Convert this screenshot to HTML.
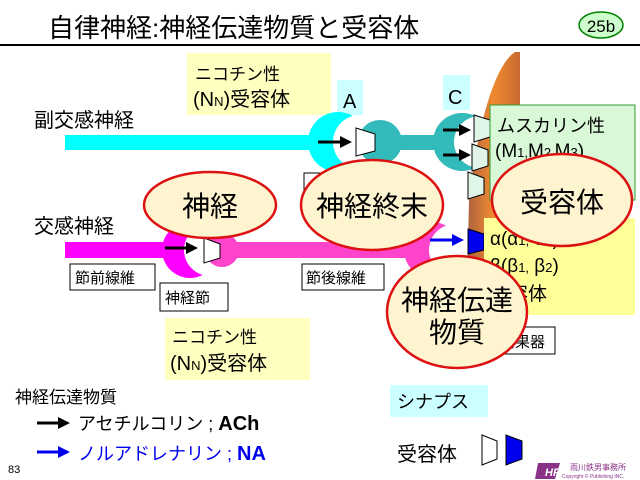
<!DOCTYPE html>
<html><head><meta charset="utf-8"><style>
body{margin:0;background:#fff}
svg{display:block}
text{font-family:"Liberation Sans","Noto Sans CJK JP",sans-serif}
</style></head><body>
<svg width="640" height="480" viewBox="0 0 640 480" xmlns="http://www.w3.org/2000/svg">
<defs>
<linearGradient id="eff" x1="0" x2="1" y1="0" y2="0"><stop offset="0" stop-color="#a86040"/><stop offset="0.5" stop-color="#f08a30"/><stop offset="1" stop-color="#c86a30"/></linearGradient>
<marker id="ab" markerWidth="4" markerHeight="4" refX="2" refY="2" orient="auto"><path d="M0,0L4,2L0,4z" fill="#000"/></marker>
<marker id="abl" markerWidth="4" markerHeight="4" refX="2" refY="2" orient="auto"><path d="M0,0L4,2L0,4z" fill="#0000ee"/></marker>
</defs>
<text x="48" y="37" font-size="26">自律神経:神経伝達物質と受容体</text>
<line x1="0" y1="45" x2="640" y2="45" stroke="#000" stroke-width="2"/>
<ellipse cx="601" cy="25" rx="22" ry="13" fill="#ccffcc" stroke="#008000" stroke-width="1.5"/>
<text x="601" y="32" font-size="17" text-anchor="middle">25b</text>

<rect x="187" y="53" width="144" height="62" fill="#ffffc0"/>
<text x="195" y="80" font-size="17">ニコチン性</text>
<text x="193" y="106" font-size="20">(N<tspan font-size="13">N</tspan>)受容体</text>
<rect x="337" y="80" width="26" height="35" fill="#ccffff"/>
<text x="343" y="108" font-size="20">A</text>
<rect x="443" y="75" width="27" height="35" fill="#ccffff"/>
<text x="448" y="104" font-size="20">C</text>

<text x="34" y="127" font-size="20">副交感神経</text>
<rect x="65" y="135" width="270" height="15" fill="#00ffff"/>
<circle cx="338" cy="142" r="30" fill="#00ffff"/>
<circle cx="360" cy="142" r="27" fill="#fff"/>
<rect x="375" y="135" width="70" height="15" fill="#33bbbb"/>
<circle cx="380" cy="142" r="22" fill="#33bbbb"/>
<circle cx="462" cy="142" r="29" fill="#33bbbb"/>
<circle cx="480" cy="142" r="26" fill="#fff"/>

<text x="34" y="233" font-size="20">交感神経</text>
<rect x="65" y="242" width="110" height="16" fill="#ff00ff"/>
<circle cx="190" cy="250" r="28" fill="#ff00ff"/>
<circle cx="210" cy="250" r="26" fill="#fff"/>
<rect x="215" y="242" width="225" height="16" fill="#ff44cc"/>
<circle cx="222" cy="250" r="17" fill="#ff44cc"/>
<circle cx="432" cy="250" r="28" fill="#ff44cc"/>
<circle cx="455" cy="250" r="26" fill="#fff"/>

<path d="M515,52 C496,64 478,120 469,200 L466,335 L520,335 L520,52 Z" fill="url(#eff)"/>

<path d="M356,128 L375,134 L375,151 L356,156 Z" fill="#fff" stroke="#000"/>
<line x1="318" y1="142" x2="346" y2="142" stroke="#000" stroke-width="3" marker-end="url(#ab)"/>
<line x1="443" y1="130" x2="465" y2="130" stroke="#000" stroke-width="3" marker-end="url(#ab)"/>
<line x1="443" y1="155" x2="465" y2="155" stroke="#000" stroke-width="3" marker-end="url(#ab)"/>
<path d="M474,115 L490,120 L490,137 L474,142 Z" fill="#dff5e8" stroke="#000"/>
<path d="M472,144 L488,150 L488,166 L472,171 Z" fill="#dff5e8" stroke="#000"/>
<path d="M468,172 L484,178 L484,194 L468,199 Z" fill="#dff5e8" stroke="#000"/>

<rect x="490" y="105" width="145" height="95" fill="#d8f8d8" stroke="#339933"/>
<text x="497" y="132" font-size="18">ムスカリン性</text>
<text x="495" y="157" font-size="19">(M<tspan font-size="13">1,</tspan>M<tspan font-size="13">2,</tspan>M<tspan font-size="13">3</tspan>)</text>

<path d="M204,238 L220,244 L220,258 L204,263 Z" fill="#fff" stroke="#000"/>
<line x1="165" y1="248" x2="192" y2="248" stroke="#000" stroke-width="3" marker-end="url(#ab)"/>
<line x1="430" y1="240" x2="458" y2="240" stroke="#0000ee" stroke-width="3" marker-end="url(#abl)"/>
<path d="M468,229 L484,234 L484,250 L468,254 Z" fill="#0000ee" stroke="#000"/>

<rect x="484" y="218" width="151" height="97" fill="#ffff99"/>
<text x="490" y="245" font-size="19">α(α<tspan font-size="13">1,</tspan> α<tspan font-size="13">2</tspan>)</text>
<text x="490" y="272" font-size="19">β(β<tspan font-size="13">1,</tspan> β<tspan font-size="13">2</tspan>)</text>
<text x="490" y="300" font-size="19">受容体</text>

<rect x="70" y="264" width="85" height="26" fill="#fff" stroke="#000"/>
<text x="75" y="283" font-size="15">節前線維</text>
<rect x="160" y="283" width="68" height="28" fill="#fff" stroke="#000"/>
<text x="165" y="303" font-size="15">神経節</text>
<rect x="302" y="264" width="82" height="26" fill="#fff" stroke="#000"/>
<text x="306" y="283" font-size="15">節後線維</text>
<rect x="497" y="327" width="58" height="27" fill="#fff" stroke="#000"/>
<text x="500" y="347" font-size="15">効果器</text>
<rect x="304" y="173" width="20" height="22" fill="#fff" stroke="#000"/>

<rect x="165" y="318" width="145" height="62" fill="#ffffc0"/>
<text x="172" y="343" font-size="17">ニコチン性</text>
<text x="170" y="370" font-size="20">(N<tspan font-size="13">N</tspan>)受容体</text>

<g fill="#fff4d0" stroke="#dd1111" stroke-width="2.5">
<ellipse cx="210" cy="205" rx="66" ry="33"/>
<ellipse cx="372" cy="205" rx="71" ry="45"/>
<ellipse cx="562" cy="200" rx="70" ry="46"/>
<ellipse cx="457" cy="312" rx="70" ry="56"/>
</g>
<text x="210" y="216" font-size="28" text-anchor="middle">神経</text>
<text x="372" y="216" font-size="28" text-anchor="middle">神経終末</text>
<text x="562" y="212" font-size="28" text-anchor="middle">受容体</text>
<text x="457" y="310" font-size="28" text-anchor="middle">神経伝達</text>
<text x="457" y="342" font-size="28" text-anchor="middle">物質</text>

<text x="15" y="403" font-size="17">神経伝達物質</text>
<line x1="37" y1="423" x2="64" y2="423" stroke="#000" stroke-width="3" marker-end="url(#ab)"/>
<text x="78" y="430" font-size="18">アセチルコリン ; <tspan font-weight="bold" font-size="20">ACh</tspan></text>
<line x1="37" y1="452" x2="64" y2="452" stroke="#0000ee" stroke-width="3" marker-end="url(#abl)"/>
<text x="78" y="460" font-size="18" fill="#0000ee">ノルアドレナリン ; <tspan font-weight="bold" font-size="20">NA</tspan></text>
<text x="8" y="473" font-size="11">83</text>

<rect x="390" y="385" width="98" height="32" fill="#ccffff"/>
<text x="397" y="408" font-size="18">シナプス</text>
<text x="397" y="461" font-size="20">受容体</text>
<path d="M482,435 L497,441 L497,459 L482,465 Z" fill="#fff" stroke="#000"/>
<path d="M506,435 L522,441 L522,459 L506,465 Z" fill="#0000ee" stroke="#000"/>
<rect x="537" y="462" width="97" height="16" fill="#fff"/>
<path d="M538,463 L560,463 L555,479 L535,479 Z" fill="#883388"/>
<text x="545" y="476" font-size="11" font-weight="bold" fill="#fff" font-style="italic">HP</text>
<text x="570" y="470" font-size="8" fill="#883388">雨川鉄男事務所</text>
<text x="562" y="478" font-size="5" fill="#883388">Copyright © Publishing INC.</text>
</svg>
</body></html>
